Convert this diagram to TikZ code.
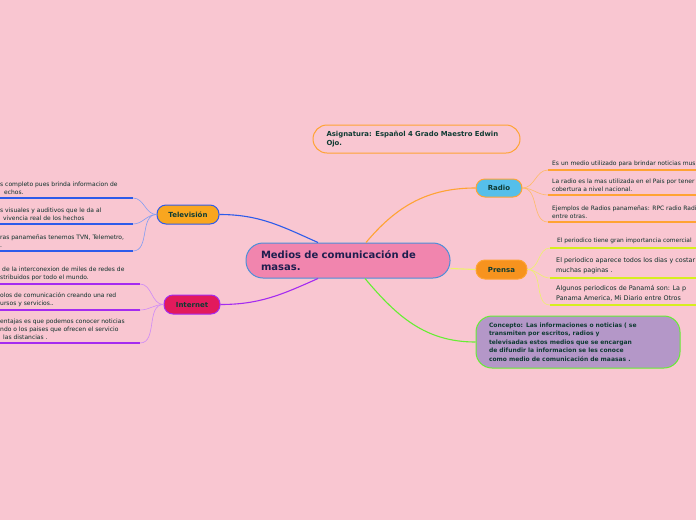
\documentclass[tikz,border=0pt]{standalone}
\usepackage{fontspec}
\setmainfont{DejaVu Sans}
\usetikzlibrary{calc}
\definecolor{bgpink}{HTML}{F9C6D1}
\definecolor{centerpink}{HTML}{F185AE}
\definecolor{centerblue}{HTML}{4C8FD9}
\definecolor{navyink}{HTML}{1E1E4E}
\definecolor{darkink}{HTML}{0F3B33}
\definecolor{radioorange}{HTML}{FFA333}
\definecolor{radiofill}{HTML}{55BFEA}
\definecolor{prensafill}{HTML}{F7931E}
\definecolor{prensaline}{HTML}{EEF26A}
\definecolor{prensaunder}{HTML}{D6EE1E}
\definecolor{conceptgreen}{HTML}{66EE33}
\definecolor{conceptfill}{HTML}{B497C8}
\definecolor{teleblue}{HTML}{2D5BEA}
\definecolor{telefill}{HTML}{F9A61F}
\definecolor{netpurple}{HTML}{A52BF0}
\definecolor{netfill}{HTML}{E21A5C}
\tikzset{
	topic/.style = {draw, line width = 1pt, rounded corners = 9pt, minimum height = 19pt, inner sep = 0pt, text = darkink, font = \fontsize{7}{8}\selectfont\bfseries},
	subtext/.style = {anchor = south west, inner sep = 0pt, align = left, text = darkink!80!black, font = \fontsize{6}{7.8}\selectfont},
	branch/.style = {line width = 1.1pt},
	twig/.style = {line width = 0.6pt},
	underline/.style = {line width = 1.6pt}
}

\begin{document}
\begin{tikzpicture}[x = 1pt, y = -1pt]
	\fill[bgpink] (0, 0) rectangle (696, 520);
	\useasboundingbox (0, 0) rectangle (696, 520);
	\coordinate (leftedge) at (0, 0);
	\coordinate (rightedge) at (696, 0);

	\node[draw = centerblue, fill = centerpink, line width = 1pt, rounded corners = 17pt, minimum height = 35pt, text width = 174pt, inner xsep = 15pt, inner ysep = 0pt, align = left, text = navyink, font = \fontsize{10}{11.5}\selectfont\bfseries] (central) at (348, 260.5) {Medios de comunicación de\\masas.};
	\node[topic, draw = radioorange, rounded corners = 14pt, minimum height = 28pt, text width = 180pt, inner xsep = 13.5pt, align = left, font = \fontsize{6.9}{8.4}\selectfont\bfseries] (subject) at (416.5, 139) {Asignatura: Español 4 Grado Maestro Edwin\\Ojo.};
	\node[topic, draw = radioorange, fill = radiofill, minimum width = 46pt, minimum height = 18pt] (radio) at (499, 188) {Radio};
	\node[topic, draw = radioorange, fill = prensafill, minimum width = 51pt] (prensa) at (501.5, 269.5) {Prensa};
	\node[topic, draw = conceptgreen, fill = conceptfill, rounded corners = 16pt, minimum height = 52pt, text width = 178pt, inner xsep = 13pt, align = left, font = \fontsize{6}{8.6}\selectfont\bfseries] (concept) at (578, 342) {Concepto: Las informaciones o noticias ( se\\transmiten por escritos, radios y\\televisadas estos medios que se encargan\\de difundir la informacion se les conoce\\como medio de comunicación de maasas .};
	\node[topic, draw = teleblue, fill = telefill, minimum width = 62pt] (tele) at (188, 214.5) {Televisión};
	\node[topic, draw = netpurple, fill = netfill, minimum width = 56pt] (internet) at (192, 304.5) {Internet};

	\draw[branch, radioorange] ([xshift = 18pt]central.north) to[out = 50, in = 180] (radio.west);
	\draw[branch, prensaline] ([yshift = -8pt]central.east) -- (prensa.west);
	\draw[branch, conceptgreen] ([xshift = 17pt]central.south) to[out = -50, in = 180] (concept.west);
	\draw[branch, teleblue] ([xshift = -30pt]central.north) to[out = 156, in = 0] (tele.east);
	\draw[branch, netpurple] ([xshift = -30pt]central.south) to[out = 204, in = 0] (internet.east);

	\coordinate (r1) at (548, 170);
	\coordinate (r2) at (548, 195);
	\coordinate (r3) at (548, 222);
	\foreach \k in {r1, r2, r3} {
		\draw[twig, radioorange!75] (radio.east) to[out = 0, in = 180] (\k);
		\draw[underline, radioorange] (\k) -- (\k -| rightedge);
	}
	\node[subtext] (r1text) at ($(r1) + (4, -3.5)$) {Es un medio utilizado para brindar noticias mus};
	\node[subtext] (r2text) at ($(r2) + (4, -3.5)$) {La radio es la mas utilizada en el Pais por tener\\cobertura a nivel nacional.};
	\node[subtext] (r3text) at ($(r3) + (4, -3.5)$) {Ejemplos de Radios panameñas: RPC radio Radi\\entre otras.};

	\coordinate (p1) at (550, 248);
	\coordinate (p2) at (550, 278);
	\coordinate (p3) at (550, 305);
	\foreach \k in {p1, p2, p3} {
		\draw[twig, prensaline] (prensa.east) to[out = 0, in = 180] (\k);
		\draw[underline, prensaunder] (\k) -- (\k -| rightedge);
	}
	\node[subtext, font = \fontsize{5.9}{7}\selectfont] (p1text) at ($(p1) + (7, -4)$) {El periodico tiene gran importancia comercial};
	\node[subtext, font = \fontsize{6.4}{9.5}\selectfont] (p2text) at ($(p2) + (6, -4)$) {El periodico aparece todos los dias y costar\\muchas paginas .};
	\node[subtext, font = \fontsize{6.4}{9.5}\selectfont] (p3text) at ($(p3) + (6, -4)$) {Algunos periodicos de Panamá son: La p\\Panama America, Mi Diario entre Otros};

	\coordinate (t1) at (133, 198);
	\coordinate (t2) at (133, 224);
	\coordinate (t3) at (133, 251);
	\foreach \k in {t1, t2, t3} {
		\draw[twig, teleblue!60] (tele.west) to[out = 180, in = 0] (\k);
		\draw[underline, teleblue] (\k -| leftedge) -- (\k);
	}
	\node[subtext] (t1text) at ($(t1 -| leftedge) + (0, -3.5)$) {s completo pues brinda informacion de\\\hspace*{4pt}echos.};
	\node[subtext] (t2text) at ($(t2 -| leftedge) + (0, -3.5)$) {s visuales y auditivos que le da al\\\hspace*{3pt}vivencia real de los hechos};
	\node[subtext] (t3text) at ($(t3 -| leftedge) + (0, -3.5)$) {ras panameñas tenemos TVN, Telemetro,\\.};

	\coordinate (i1) at (140, 284);
	\coordinate (i2) at (140, 310);
	\coordinate (i3) at (140, 343);
	\foreach \k in {i1, i2, i3} {
		\draw[twig, netpurple!55] (internet.west) to[out = 180, in = 0] (\k);
		\draw[underline, netpurple] (\k -| leftedge) -- (\k);
	}
	\node[subtext] (i1text) at ($(i1 -| leftedge) + (0, -3.5)$) {\hspace*{2pt}de la interconexion de miles de redes de\\stribuidos por todo el mundo.};
	\node[subtext] (i2text) at ($(i2 -| leftedge) + (0, -3.5)$) {olos de comunicación creando una red\\ursos y servicios..};
	\node[subtext] (i3text) at ($(i3 -| leftedge) + (0, -3.5)$) {entajas es que podemos conocer noticias\\ndo o los paises que ofrecen el servicio\\\hspace*{3pt}las distancias .};
\end{tikzpicture}
\end{document}
